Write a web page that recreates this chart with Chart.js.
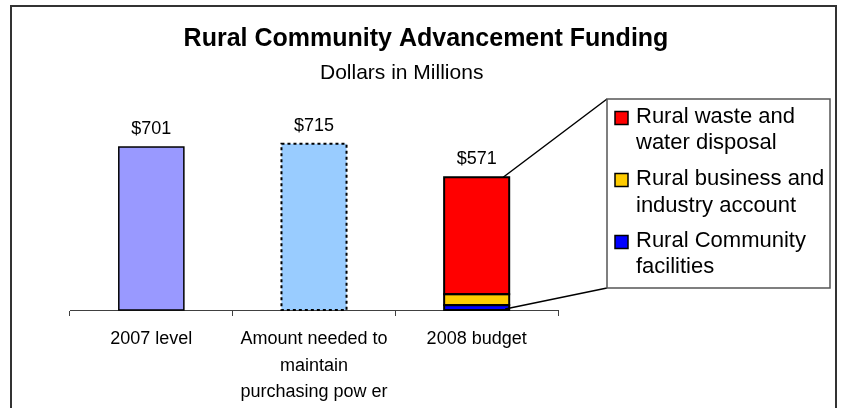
<!DOCTYPE html>
<html><head><meta charset="utf-8">
<script src="https://cdn.jsdelivr.net/npm/chart.js@4.4.1/dist/chart.umd.min.js"></script>
<style>html,body{margin:0;padding:0;background:#fff;} canvas{display:block;}</style>
</head><body>
<canvas id="c" width="842" height="408"></canvas>
<script>
// ---- data ----
const categories = ['2007 level', ['Amount needed to', 'maintain', 'purchasing pow er'], '2008 budget'];
const level2007 = [701, null, null];
const neededAmount = [null, 715, null];
const communityFacilities = [null, null, 21];
const businessIndustry = [null, null, 47];
const wasteWater = [null, null, 503];
const seriesNames = ['2007 level', 'Amount needed to maintain purchasing power', 'Rural Community facilities', 'Rural business and industry account', 'Rural waste and water disposal'];
const legendLabels = [['Rural waste and', 'water disposal'], ['Rural business and', 'industry account'], ['Rural Community', 'facilities']];
const titleText = 'Rural Community Advancement Funding';
const subtitleText = 'Dollars in Millions';

const FONT = "'Liberation Sans', Arial, Helvetica, sans-serif";

const framePlugin = {
  id: 'frame',
  beforeDraw(chart) {
    const ctx = chart.ctx;
    ctx.save();
    ctx.fillStyle = '#fff';
    ctx.fillRect(0, 0, chart.width, chart.height);
    ctx.strokeStyle = '#333';
    ctx.lineWidth = 2;
    ctx.beginPath();
    ctx.moveTo(11, chart.height + 2);
    ctx.lineTo(11, 6);
    ctx.lineTo(836, 6);
    ctx.lineTo(836, chart.height + 2);
    ctx.stroke();
    // title and subtitle
    ctx.fillStyle = '#000';
    ctx.textBaseline = 'alphabetic';
    ctx.textAlign = 'center';
    ctx.font = 'bold 25px ' + FONT;
    ctx.fillText(titleText, 426, 46);
    ctx.textAlign = 'left';
    ctx.font = '21px ' + FONT;
    ctx.fillText(subtitleText, 320, 79);
    ctx.restore();
  }
};

const extrasPlugin = {
  id: 'extras',
  afterDatasetsDraw(chart) {
    const ctx = chart.ctx;
    const yScale = chart.scales.y;
    ctx.save();
    // bar outlines (shared edges, like the original)
    chart.data.datasets.forEach((ds, di) => {
      const meta = chart.getDatasetMeta(di);
      meta.data.forEach((el, i) => {
        if (ds.data[i] == null) return;
        ctx.strokeStyle = '#000';
        if (di === 1) { ctx.setLineDash([3, 3]); ctx.lineWidth = 2; }
        else if (di === 0) { ctx.setLineDash([]); ctx.lineWidth = 1.5; }
        else { ctx.setLineDash([]); ctx.lineWidth = 2; }
        ctx.strokeRect(el.x - el.width / 2, el.y, el.width, el.base - el.y);
      });
    });
    ctx.setLineDash([]);
    // totals
    ctx.font = '18px ' + FONT;
    ctx.fillStyle = '#000';
    ctx.textAlign = 'center';
    ctx.textBaseline = 'middle';
    categories.forEach((c, i) => {
      let total = 0;
      let x = null;
      chart.data.datasets.forEach((ds, di) => {
        const v = ds.data[i];
        if (v != null) {
          total += v;
          x = chart.getDatasetMeta(di).data[i].x;
        }
      });
      if (x != null) {
        ctx.fillText('$' + total, x, yScale.getPixelForValue(total) - 18);
      }
    });
    // connectors + legend box
    const bx = 607, by = 99, bw = 223, bh = 189;
    const redEl = chart.getDatasetMeta(4).data[2];
    const baseEl = chart.getDatasetMeta(2).data[2];
    ctx.strokeStyle = '#000';
    ctx.lineWidth = 1.5;
    ctx.beginPath();
    ctx.moveTo(redEl.x + redEl.width / 2 - 6, redEl.y);
    ctx.lineTo(bx, by);
    ctx.moveTo(baseEl.x + baseEl.width / 2 - 4, baseEl.base - 1);
    ctx.lineTo(bx, by + bh);
    ctx.stroke();
    ctx.fillStyle = '#fff';
    ctx.fillRect(bx, by, bw, bh);
    ctx.strokeStyle = '#555';
    ctx.lineWidth = 1.5;
    ctx.strokeRect(bx, by, bw, bh);
    const colors = ['#FF0000', '#FFCC00', '#0000FF'];
    const lineY = [[117, 143], [179, 206], [241, 267]];
    ctx.font = '22px ' + FONT;
    ctx.textAlign = 'left';
    ctx.textBaseline = 'middle';
    legendLabels.forEach((lines, k) => {
      const cy = lineY[k][0] + 1;
      ctx.fillStyle = colors[k];
      ctx.fillRect(615, cy - 6.5, 13, 13);
      ctx.strokeStyle = '#000';
      ctx.lineWidth = 1.5;
      ctx.strokeRect(615, cy - 6.5, 13, 13);
      ctx.fillStyle = '#000';
      lines.forEach((t, j) => ctx.fillText(t, 636, lineY[k][j]));
    });
    ctx.restore();
  }
};

const common = { categoryPercentage: 1, barPercentage: 0.4, borderSkipped: false, borderWidth: 0, stack: 's' };

new Chart(document.getElementById('c'), {
  type: 'bar',
  data: {
    labels: categories,
    datasets: [
      Object.assign({ label: seriesNames[0], data: level2007, backgroundColor: '#9999FF' }, common),
      Object.assign({ label: seriesNames[1], data: neededAmount, backgroundColor: '#99CCFF' }, common),
      Object.assign({ label: seriesNames[2], data: communityFacilities, backgroundColor: '#0000FF' }, common),
      Object.assign({ label: seriesNames[3], data: businessIndustry, backgroundColor: '#FFCC00' }, common),
      Object.assign({ label: seriesNames[4], data: wasteWater, backgroundColor: '#FF0000' }, common)
    ]
  },
  options: {
    responsive: false,
    animation: false,
    devicePixelRatio: 1,
    layout: { padding: { top: 77.5, left: 70, right: 284, bottom: 0 } },
    plugins: {
      legend: { display: false },
      tooltip: { enabled: false },
      title: { display: false },
      subtitle: { display: false }
    },
    scales: {
      x: {
        stacked: true,
        grid: { display: true, drawOnChartArea: false, drawTicks: true, tickLength: 6, color: '#404040', offset: true },
        border: { display: true, color: '#404040', width: 1 },
        ticks: { color: '#000', font: { family: FONT, size: 18, lineHeight: 1.47 }, padding: 10, maxRotation: 0, autoSkip: false },
        afterFit: (s) => { s.height = 98; }
      },
      y: {
        stacked: true, min: 0, max: 1000, display: false
      }
    }
  },
  plugins: [framePlugin, extrasPlugin]
});
</script>
</body></html>
